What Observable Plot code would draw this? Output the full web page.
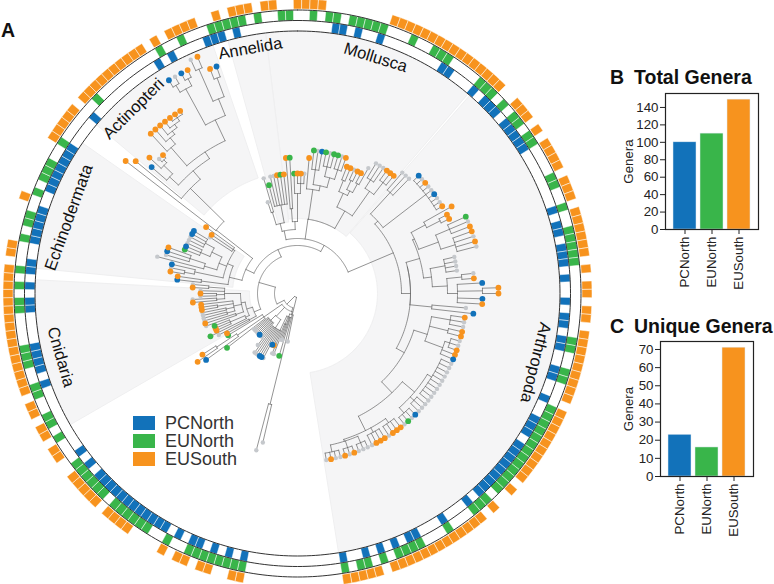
<!DOCTYPE html>
<html><head><meta charset="utf-8">
<script src="https://cdn.jsdelivr.net/npm/d3@7"></script>
<script src="https://cdn.jsdelivr.net/npm/@observablehq/plot@0.6"></script>
<style>
html,body{margin:0;padding:0;background:#fff}
#wrap{position:relative;width:774px;height:584px;overflow:hidden;font-family:"Liberation Sans",Arial,sans-serif}
#wrap svg{position:absolute}
.t{position:absolute;font-weight:bold;font-size:19.5px;color:#111;white-space:nowrap;line-height:20px}
.sw{position:absolute;left:133px;width:22px;height:14px}
.lg{position:absolute;left:165px;font-size:18px;color:#333;line-height:18px;white-space:pre-line}
</style></head><body><div id="wrap"></div>
<script>
const regions=["PCNorth","EUNorth","EUSouth"];
const regionColors=["#1272BA","#39B54A","#F7931E"];
const totalGenera=[100,110,149];
const uniqueGenera=[23,16,71];
const totalTicks=[0,20,40,60,80,100,120,140];
const uniqueTicks=[0,10,20,30,40,50,60,70];

const pcNorth=[5,6,8,11,20,21,25,27,28,29,31,32,33,34,35,44,46,47,49,50,51,53,56,58,59,61,62,65,66,69,72,73,74,76,77,78,79,80,81,82,83,84,86,90,94,95,97,99,101,104,117,119,121,123,124,126,128,129,130,131,132,133,134,135,136,137,138,139,141,143,153,155,156,157,158,163,164,166,168,169,172,173,174,175,176,179,180,181,182,183,184,185,190,201,203,208,209,210,212];
const euNorth=[2,4,5,7,8,9,10,11,15,18,19,20,25,26,27,29,31,32,34,35,40,41,44,47,48,49,50,51,61,62,65,66,70,71,72,73,74,75,76,77,78,79,80,81,82,84,85,86,90,94,95,96,97,99,101,102,104,117,118,119,120,121,122,123,124,127,130,131,132,133,134,135,137,138,139,140,141,142,146,148,149,152,153,156,157,158,163,164,166,168,172,174,175,178,180,181,182,185,192,202,205,209,210,211,212,213,215,218,219];
const euSouth=[0,1,2,3,12,13,14,15,16,17,18,19,20,21,22,23,24,25,26,27,30,31,32,34,36,37,38,39,41,42,43,45,46,47,48,49,50,52,54,55,57,58,60,61,62,63,64,65,66,67,68,70,71,72,73,74,75,76,77,78,79,81,84,86,87,88,89,90,91,92,93,94,95,96,97,98,100,101,102,103,104,117,118,121,122,124,125,127,132,133,134,135,137,138,139,140,141,144,145,147,148,150,151,153,154,155,156,157,158,159,160,161,162,163,164,165,166,167,168,170,171,177,185,186,187,188,189,191,192,193,194,195,196,197,198,199,200,202,204,205,206,207,210,212,213,214,216,217];

const tipRadius=[120,120,120,136,144,144,144,144,144,144,144,144,144,136,136,136,136,136,144,152,152,152,152,152,152,160,160,160,
169,169,169,169,169,169,169,169,169,177,169,169,185,185,185,185,185,185,185,161,161,161,161,177,177,185,201,201,185,185,169,177,
169,169,169,169,169,169,169,169,169,169,169,169,169,169,169,169,169,169,169,169,169,169,169,169,169,169,169,169,169,169,169,169,169,169,169,169,169,169,169,169,169,169,169,169,169,
0,0,0,0,0,0,0,0,0,0,0,0,
49,153,162,65,49,49,65,65,57,57,73,73,73,73,73,73,65,56,56,56,56,56,56,56,56,89,113,121,113,81,81,89,97,89,89,89,97,97,97,97,97,97,97,97,97,105,105,97,97,97,105,105,
121,121,129,129,129,145,137,137,137,121,121,121,121,121,121,121,104,104,113,217,209,193,201,193,193,217,217,217,217,217,217,217,249,249,249,249,257,257,241,241,96,120,112,120,120,120,120,120,136,136,120];

const cladeNames=["Mollusca","Annelida","Actinopteri","Echinodermata","Cnidaria","Arthropoda"];
const cladeFrom=[-7,-15.4,-50,-84.5,-120,41];
const cladeTo=[40.5,-7,-18.8,-55,-87,171];
const cladeInner=[75,72,122,65,48,80];
const labelAngle=[18.3,-10.9,-41.6,-71.6,-105,106.2];
const labelRadius=[248.5,249.5,247,241,245,248];
const labelRotate=[17,-10,-45,-70,74,104];

// tree: [node radius or [radius, stem angle], ...children]; a number is a tip position
const longClade=[114,118,119];
const g1=[22,117,[25,120,121,122,[33,123,124],[41,125,126]]];
const g2=[[31,-137],[41,127,128,129,130,131,132,133],[38,134,135,136,137,138,139,140,141]];
const g3=[[41,-125],142,[73,143,[97,144,145]],146];
const bottom=[[19,-162],g1,g2,g3];
const cnidaria=[[47,-113],[55,147,148],[53,[57,149,[73,150,151,152]],[57,[65,153,154],[65,[73,155,156],[73,157,158],[81,159,160],161],[73,[81,162,163],[81,164,165],166,[89,167,168]]]]];
const echino=[[70,-76.6],[97,169,170],[76,[105,[115,171,172],173],[84,[97,174,[113,175,176,177]],[95,[105,178,179,180],[105,181,182,183,184]]],[78,185,186,187]]];
const actino=[[103,-52],188,[150,189,[161,[173,190,[185,191,[189,192,193]]],[169,[193,194,[201,195,[205,196,[209,197,[213,198,199,200]]]]],[192,[233,[241,201,202],[241,203,204]],[210,[245,205,206],[230,207,208]]]]]]];
const annelida=[[64,-12],[72,[85,209,210],[90,211,212,213,214,215,216]],[72,[85,217,218],[100,219,[110,0,1,2]]]];
const mollusca=[[75,8],[105,3,[110,[125,4,5,6],[120,[130,7,8,9],[130,10,11,12]]]],[95,[110,[122,13,14],[115,[125,15,16],[125,17,18]]],[125,[135,19,20,21],[140,22,23,24]]]];
const arTop=[[108,48],[137,25,26,27],[162,28,29,30,31,32,33,34,35,36]];
const ar2a=[[129,65],[145,37,[160,38,39]],[150,[165,40,41,42],[165,43,44,45,46]]];
const ar2b=[[135,83],[150,47,48,49,50],[150,[165,51,52],[160,53,[185,54,55],56,57]]];
const ar2=[[113,76.5],[127,ar2a,ar2b],[135,58,59]];
const ar3x=[[136,107.5],[155,60,61,62],[155,63,64],[155,[160,65,66,67],68,69]];
const ar3y=[[137,136.4],[153,[158,70,71,72,73,74,75,76,77,78,79],[158,80,81,82],[160,83,84,85,86]],[153,[158,87,88,89,90],[158,91,92,93,94],[155,[162,95,96,97],[162,98,99,100],[162,101,102,103,104]]]];
const arthropoda=[[104,67],arTop,[[113,90],ar2,[[122,119],ar3x,ar3y]]];
const upper=[[40,-74],cnidaria,[[48,-24],[[57,-65],echino,actino],[[55,29],annelida,mollusca,arthropoda]]];
const tree=[4,longClade,[[15,-135],bottom,[[23,-117],upper]]];

const step=360/220;
const ang=i=>(i>=105?i-220:i)*step;
const P=(t,r)=>({x:r*Math.sin(t*Math.PI/180),y:r*Math.cos(t*Math.PI/180)});
const R1=262.5,R2=273,R3=283.5,R4=284.5,R5=294.5;

function cells(list,r0,r1){
  const out=[];
  for(const i of list){
    const a=ang(i)-step/2,b=ang(i)+step/2;
    const pts=[[a,r0],[(a+b)/2,r0],[b,r0],[b,r1],[(a+b)/2,r1],[a,r1],[a,r0]];
    for(const [t,r] of pts) out.push({...P(t,r),id:i});
  }
  return out;
}
function wedge(k){
  const a=cladeFrom[k],b=cladeTo[k],pts=[];
  for(let t=a;t<=b;t+=1) pts.push({...P(t,262),id:k});
  pts.push({...P(b,262),id:k});
  for(let t=b;t>=a;t-=1) pts.push({...P(t,cladeInner[k]),id:k});
  pts.push({...P(a,cladeInner[k]),id:k},{...P(a,262),id:k});
  return pts;
}
const segs=[];let sid=0;
const nodeR=n=>Array.isArray(n[0])?n[0][0]:n[0];
function angOf(n){
  if(typeof n==="number") return ang(n);
  if(Array.isArray(n[0])) return n[0][1];
  return (angOf(n[1])+angOf(n[n.length-1]))/2;
}
function radial(a,r0,r1){sid++;segs.push({...P(a,r0),id:sid},{...P(a,r1),id:sid});}
function walk(n,pr){
  const a=angOf(n);
  if(typeof n==="number"){radial(a,pr,tipRadius[n]);return;}
  const r=nodeR(n);
  if(pr!=null) radial(a,pr,r);
  const as=[a,...n.slice(1).map(angOf)];
  const lo=Math.min(...as),hi=Math.max(...as);
  sid++;
  for(let t=lo;t<hi;t+=1) segs.push({...P(t,r),id:sid});
  segs.push({...P(hi,r),id:sid});
  n.slice(1).forEach(c=>walk(c,r));
}
walk(tree,null);
const tips=[];
(function collect(n){if(typeof n==="number")tips.push(n);else n.slice(1).forEach(collect);})(tree);
tips.sort((a,b)=>ang(a)-ang(b));
const tipColor=i=>{
  const b=pcNorth.includes(i),g=euNorth.includes(i),o=euSouth.includes(i);
  if(b+g+o!==1) return null;
  return b?regionColors[0]:g?regionColors[1]:regionColors[2];
};
const tipPts=tips.map(i=>({...P(ang(i),tipRadius[i]),c:tipColor(i)}));
const ring=r=>d3.range(0,361,1).map(t=>P(t,r));
const labels=cladeNames.map((n,k)=>({...P(labelAngle[k],labelRadius[k]),n,rot:labelRotate[k]}));
const wedges=cladeNames.flatMap((n,k)=>wedge(k));

const main=Plot.plot({
  width:774,height:584,margin:0,
  x:{domain:[-297,477],axis:null},
  y:{domain:[-291,293],axis:null},
  style:{fontFamily:'"Liberation Sans",Arial,sans-serif',background:"transparent"},
  marks:[
    Plot.line(wedges,{x:"x",y:"y",z:"id",fill:"#f5f5f6",stroke:"#efeff0",strokeWidth:1}),
    Plot.line(cells(pcNorth,R1,R2),{x:"x",y:"y",z:"id",fill:regionColors[0],stroke:"#fff",strokeWidth:.5}),
    Plot.line(cells(euNorth,R2,R3),{x:"x",y:"y",z:"id",fill:regionColors[1],stroke:"#fff",strokeWidth:.5}),
    Plot.line(cells(euSouth,R4,R5),{x:"x",y:"y",z:"id",fill:regionColors[2],stroke:"#fff",strokeWidth:.5}),
    Plot.line(ring(R1),{x:"x",y:"y",stroke:"#333",strokeWidth:1}),
    Plot.line(ring(R2),{x:"x",y:"y",stroke:"#333",strokeWidth:1}),
    Plot.line(ring(R3),{x:"x",y:"y",stroke:"#333",strokeWidth:1}),
    Plot.line(segs,{x:"x",y:"y",z:"id",stroke:"#666",strokeWidth:.7}),
    Plot.dot(tipPts.filter(d=>!d.c),{x:"x",y:"y",r:2.2,fill:"#c5c8cc"}),
    Plot.dot(tipPts.filter(d=>d.c),{x:"x",y:"y",r:2.9,fill:"c"}),
    Plot.text(labels,{x:"x",y:"y",text:"n",rotate:"rot",fontSize:16.6,fill:"#111"})
  ]
});
main.style.left="0";main.style.top="0";

function bars(values,ticks,top,left,height,ml,mr,yMax){
  const p=Plot.plot({
    width:184,height,marginLeft:ml,marginRight:mr,marginTop:8,marginBottom:66,
    x:{domain:regions,paddingInner:.15,paddingOuter:.24,axis:null,label:null},
    y:{domain:[0,yMax],axis:null},
    color:{domain:regions,range:regionColors},
    style:{fontFamily:'"Liberation Sans",Arial,sans-serif',fontSize:"13.3px",color:"#222",background:"transparent"},
    marks:[
      Plot.barY(regions.map((r,i)=>({r,v:values[i]})),{x:"r",y:"v",fill:"r",stroke:"#dfe9f2",strokeWidth:.5}),
      Plot.axisY({ticks,tickSize:5,tickPadding:2,label:"Genera",labelAnchor:"center",labelArrow:"none",labelOffset:ml-33,fontSize:13.3}),
      Plot.axisX({tickRotate:-90,tickSize:5,tickPadding:2,label:null,fontSize:13.3}),
      Plot.frame({stroke:"#222",strokeWidth:1.2})
    ]
  });
  p.style.left=left+"px";p.style.top=top+"px";
  return p;
}
const wrap=document.getElementById("wrap");
wrap.append(main,
  bars(totalGenera,totalTicks,85,590,210,75,16,156),
  bars(uniqueGenera,uniqueTicks,333,590,209,70,21,74.4));
const addText=(cls,txt,l,t)=>{const d=document.createElement("div");d.className=cls;d.textContent=txt;d.style.left=l+"px";d.style.top=t+"px";wrap.append(d);};
addText("t","A",1,20);
addText("t","B",610,67);
addText("t","Total Genera",634,67);
addText("t","C",610,316);
addText("t","Unique Genera",634,316);
regions.forEach((n,i)=>{
  const s=document.createElement("div");s.className="sw";s.style.top=(416+18*i)+"px";s.style.background=regionColors[i];wrap.append(s);
});
addText("lg",regions.join("\n"),165,414);
</script></body></html>
